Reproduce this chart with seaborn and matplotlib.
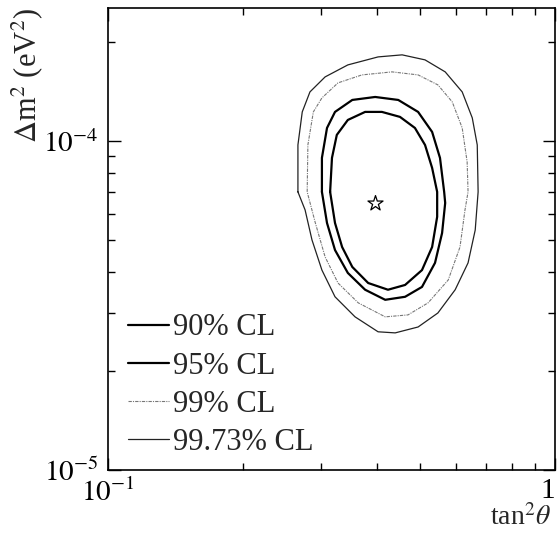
import numpy as np
import matplotlib
matplotlib.use("Agg")
import matplotlib.pyplot as plt
import seaborn as sns
from matplotlib.ticker import NullFormatter


# contour points (tan^2 theta, delta m^2 in eV^2)
cl90_x = [0.314, 0.317, 0.325, 0.344, 0.376, 0.410, 0.450, 0.486, 0.512, 0.531,
          0.545, 0.545, 0.531, 0.504, 0.462, 0.423, 0.382, 0.352, 0.334, 0.322]
cl90_y = [7.00e-5, 8.88e-5, 1.043e-4, 1.158e-4, 1.225e-4, 1.225e-4, 1.183e-4, 1.095e-4, 9.72e-5, 8.28e-5,
          7.00e-5, 5.88e-5, 4.76e-5, 4.05e-5, 3.65e-5, 3.53e-5, 3.70e-5, 4.14e-5, 4.76e-5, 5.63e-5]

cl95_x = [0.301, 0.301, 0.309, 0.322, 0.352, 0.396, 0.446, 0.494, 0.531, 0.553,
          0.565, 0.568, 0.559, 0.539, 0.504, 0.462, 0.417, 0.376, 0.344, 0.322, 0.309]
cl95_y = [7.00e-5, 8.88e-5, 1.095e-4, 1.225e-4, 1.332e-4, 1.360e-4, 1.332e-4, 1.225e-4, 1.065e-4, 8.88e-5,
          7.00e-5, 6.48e-5, 5.25e-5, 4.26e-5, 3.60e-5, 3.36e-5, 3.29e-5, 3.53e-5, 3.97e-5, 4.66e-5, 5.63e-5]

cl99_x = [0.279, 0.280, 0.288, 0.301, 0.327, 0.370, 0.432, 0.494, 0.547, 0.589, 0.620, 0.636,
          0.639, 0.629, 0.613, 0.577, 0.520, 0.469, 0.417, 0.363, 0.327, 0.306, 0.291]
cl99_y = [7.00e-5, 9.72e-5, 1.225e-4, 1.351e-4, 1.501e-4, 1.587e-4, 1.621e-4, 1.587e-4, 1.480e-4, 1.314e-4, 1.095e-4, 8.63e-5,
          7.00e-5, 6.17e-5, 4.76e-5, 3.78e-5, 3.22e-5, 2.96e-5, 2.92e-5, 3.22e-5, 3.70e-5, 4.44e-5, 5.63e-5]

cl9973_x = [0.266, 0.266, 0.272, 0.283, 0.306, 0.344, 0.402, 0.455, 0.512, 0.568, 0.620, 0.653, 0.670,
            0.673, 0.663, 0.639, 0.598, 0.547, 0.494, 0.439, 0.402, 0.357, 0.322, 0.301, 0.286, 0.276]
cl9973_y = [7.00e-5, 9.72e-5, 1.225e-4, 1.409e-4, 1.565e-4, 1.702e-4, 1.800e-4, 1.826e-4, 1.763e-4, 1.621e-4, 1.409e-4, 1.175e-4, 9.72e-5,
            7.00e-5, 5.36e-5, 4.26e-5, 3.53e-5, 3.00e-5, 2.72e-5, 2.61e-5, 2.63e-5, 2.92e-5, 3.36e-5, 4.05e-5, 5.00e-5, 6.17e-5]

best_x = [0.396]
best_y = [6.48e-5]

labels = ["90% CL", "95% CL", "99% CL", "99.73% CL"]


sns.set_style("ticks")
plt.rcParams["font.family"] = ["Liberation Serif", "DejaVu Serif"]
plt.rcParams["mathtext.fontset"] = "stix"

fig = plt.figure(figsize=(5.57, 5.35), dpi=100)
ax = fig.add_axes([0.1939, 0.1215, 0.8025, 0.8636])

contours = [(cl90_x, cl90_y, "black", 1.6, "-"),
            (cl95_x, cl95_y, "black", 1.6, "-"),
            (cl99_x, cl99_y, "#777777", 0.8, (0, (3, 1, 1, 1))),
            (cl9973_x, cl9973_y, "#222222", 0.9, "-")]

for (xs, ys, col, lw, ls), lab in zip(contours, labels):
    # close the loop
    xs = list(xs) + [xs[0]]
    ys = list(ys) + [ys[0]]
    sns.lineplot(x=xs, y=ys, sort=False, estimator=None, ax=ax,
                 color=col, linewidth=lw, linestyle=ls, label=lab)

sns.scatterplot(x=best_x, y=best_y, marker="*", s=130, facecolor="white",
                edgecolor="black", linewidth=0.9, ax=ax, zorder=5)

ax.set_xscale("log")
ax.set_yscale("log")
ax.set_xlim(0.1, 1.0)
ax.set_ylim(1e-5, 2.535e-4)

ax.set_xticks([0.1, 1.0])
ax.set_xticklabels([r"$10^{-1}$", "1"])
ax.get_xticklabels()[1].set_ha("right")
ax.set_yticks([1e-5, 1e-4])
ax.set_yticklabels([r"$10^{-5}$", r"$10^{-4}$"])
ax.xaxis.set_minor_formatter(NullFormatter())
ax.yaxis.set_minor_formatter(NullFormatter())

ax.tick_params(which="both", direction="in", top=True, right=True, width=1, colors="black")
ax.tick_params(which="major", length=9, labelsize=21)
ax.tick_params(which="minor", length=5)
ax.tick_params(axis="x", which="major", pad=6)
ax.tick_params(axis="y", which="major", pad=7)
for s in ax.spines.values():
    s.set_linewidth(1.2)
    s.set_color("black")

ax.set_xlabel(r"tan$^2\theta$", fontsize=20, ha="right", va="top")
ax.xaxis.set_label_coords(0.99, -0.074)
ax.set_ylabel(r"$\Delta$m$^2$ (eV$^2$)", fontsize=22, ha="right", va="bottom")
ax.yaxis.set_label_coords(-0.141, 1.0)

ax.legend(loc="lower left", bbox_to_anchor=(0.03, 0.015), frameon=False,
          fontsize=22, handlelength=1.35, handletextpad=0.15,
          labelspacing=0.3, borderpad=0.2, borderaxespad=0)

fig.savefig("out.png", dpi=100)
